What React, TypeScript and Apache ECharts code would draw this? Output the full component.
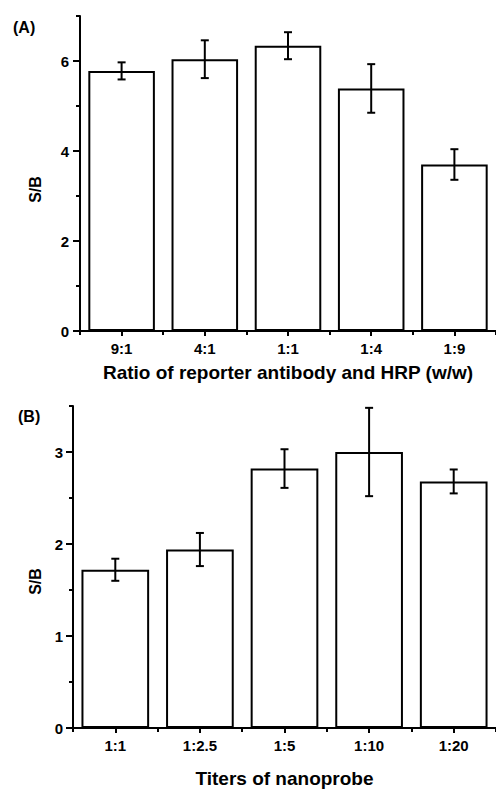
import React, { useEffect, useRef } from "react";
import * as echarts from "echarts";

const catsA = ["9:1", "4:1", "1:1", "1:4", "1:9"];
const meanA = [5.78, 6.04, 6.34, 5.39, 3.7];
const errA = [0.19, 0.42, 0.3, 0.54, 0.34];
const yTicksA = [0, 2, 4, 6];

const catsB = ["1:1", "1:2.5", "1:5", "1:10", "1:20"];
const meanB = [1.72, 1.94, 2.82, 3.0, 2.68];
const errB = [0.12, 0.18, 0.21, 0.48, 0.13];
const yTicksB = [0, 1, 2, 3];

const FONT = "'Liberation Sans', Arial, Helvetica, sans-serif";
const BLACK = "#000";

function errorRender(params: any, api: any) {
  const x = api.value(0);
  const lo = api.value(1);
  const hi = api.value(2);
  const top = api.coord([x, hi]);
  const bot = api.coord([x, lo]);
  const w = 4;
  const style = { stroke: BLACK, lineWidth: 2 };
  return {
    type: "group",
    children: [
      { type: "line", shape: { x1: top[0], y1: top[1], x2: bot[0], y2: bot[1] }, style },
      { type: "line", shape: { x1: top[0] - w, y1: top[1], x2: top[0] + w, y2: top[1] }, style },
      { type: "line", shape: { x1: bot[0] - w, y1: bot[1], x2: bot[0] + w, y2: bot[1] }, style },
    ],
  };
}

function mainX(grid: number, cats: string[], name: string, labelMargin: number, nameGap: number) {
  return {
    gridIndex: grid,
    type: "category",
    position: "bottom",
    data: cats,
    axisLine: { show: true, lineStyle: { color: BLACK, width: 2 } },
    axisTick: { show: true, length: 4, lineStyle: { color: BLACK, width: 2 } },
    axisLabel: { margin: labelMargin, fontSize: 15, fontWeight: "bold", color: BLACK, fontFamily: FONT },
    name,
    nameLocation: "middle",
    nameGap,
    nameTextStyle: { fontSize: 19, fontWeight: "bold", color: BLACK, fontFamily: FONT },
    splitLine: { show: false },
  };
}

function centerX(grid: number, cats: string[]) {
  return {
    gridIndex: grid,
    type: "category",
    position: "bottom",
    data: cats,
    axisLine: { show: false },
    axisTick: { show: true, alignWithLabel: true, length: 5, lineStyle: { color: BLACK, width: 2 } },
    axisLabel: { show: false },
    splitLine: { show: false },
  };
}

function mainY(grid: number, max: number, interval: number, labels: number[], margin: number) {
  return {
    gridIndex: grid,
    type: "value",
    position: "left",
    min: 0,
    max,
    interval,
    axisLine: { show: true, lineStyle: { color: BLACK, width: 2 } },
    axisTick: { show: true, length: 4, lineStyle: { color: BLACK, width: 2 } },
    axisLabel: {
      customValues: labels,
      formatter: (v: number) => (labels.indexOf(v) >= 0 ? String(v) : ""),
      margin,
      fontSize: 15,
      fontWeight: "bold",
      color: BLACK,
      fontFamily: FONT,
    },
    splitLine: { show: false },
  };
}

function majorY(grid: number, max: number, interval: number, labels: number[]) {
  return {
    gridIndex: grid,
    type: "value",
    position: "left",
    min: 0,
    max,
    interval,
    axisLine: { show: false },
    axisTick: { show: true, customValues: labels, length: 7, lineStyle: { color: BLACK, width: 2 } },
    axisLabel: { show: false },
    splitLine: { show: false },
  };
}

export default function App() {
  const ref = useRef<HTMLDivElement>(null);
  useEffect(() => {
    if (!ref.current) return;
    const chart = echarts.init(ref.current, undefined, { renderer: "svg" });
    const option: any = {
      animation: false,
      backgroundColor: "#fff",
      textStyle: { fontFamily: FONT },
      grid: [
        { left: 80, top: 16, width: 417, height: 315 },
        { left: 73, top: 406, width: 434, height: 326 },
      ],
      xAxis: [
        mainX(0, catsA, "Ratio of reporter antibody and HRP (w/w)", 10, 32),
        centerX(0, catsA),
        mainX(1, catsB, "Titers of nanoprobe", 10, 41),
        centerX(1, catsB),
      ],
      yAxis: [
        mainY(0, 7, 1, yTicksA, 11),
        majorY(0, 7, 1, yTicksA),
        mainY(1, 3.5, 0.5, yTicksB, 10),
        majorY(1, 3.5, 0.5, yTicksB),
      ],
      graphic: [
        { type: "text", left: 13, top: 19, style: { text: "(A)", fontSize: 16, fontWeight: "bold", fill: BLACK, fontFamily: FONT } },
        { type: "text", left: 18, top: 408, style: { text: "(B)", fontSize: 16, fontWeight: "bold", fill: BLACK, fontFamily: FONT } },
        {
          type: "text",
          x: 35.5,
          y: 189.5,
          rotation: Math.PI / 2,
          style: { text: "S/B", fontSize: 16, fontWeight: "bold", fill: BLACK, fontFamily: FONT, align: "center", verticalAlign: "middle" },
        },
        {
          type: "text",
          x: 35,
          y: 581.5,
          rotation: Math.PI / 2,
          style: { text: "S/B", fontSize: 16, fontWeight: "bold", fill: BLACK, fontFamily: FONT, align: "center", verticalAlign: "middle" },
        },
      ],
      series: [
        {
          type: "bar",
          xAxisIndex: 0,
          yAxisIndex: 0,
          data: meanA,
          barCategoryGap: "20%",
          itemStyle: { color: "#fff", borderColor: BLACK, borderWidth: 2 },
          z: 2,
        },
        {
          type: "custom",
          xAxisIndex: 0,
          yAxisIndex: 0,
          renderItem: errorRender,
          encode: { x: 0, y: [1, 2] },
          data: meanA.map((m, i) => [i, m - errA[i], m + errA[i]]),
          z: 5,
        },
        {
          type: "bar",
          xAxisIndex: 2,
          yAxisIndex: 2,
          data: meanB,
          barCategoryGap: "20%",
          itemStyle: { color: "#fff", borderColor: BLACK, borderWidth: 2 },
          z: 2,
        },
        {
          type: "custom",
          xAxisIndex: 2,
          yAxisIndex: 2,
          renderItem: errorRender,
          encode: { x: 0, y: [1, 2] },
          data: meanB.map((m, i) => [i, m - errB[i], m + errB[i]]),
          z: 5,
        },
      ],
    };
    chart.setOption(option);
    return () => chart.dispose();
  }, []);
  return (
    <div
      ref={ref}
      style={{ position: "absolute", left: 0, top: 0, width: 496, height: 789, overflow: "hidden", background: "#fff" }}
    />
  );
}
